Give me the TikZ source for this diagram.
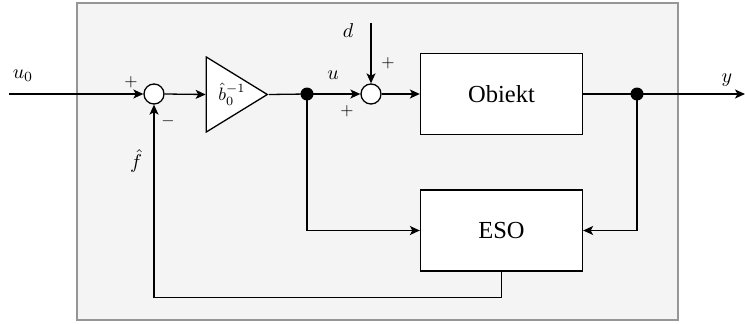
\documentclass[tikz,border=0pt]{standalone}
\usepackage{fontspec}
\setmainfont{Liberation Serif}
\usetikzlibrary{arrows.meta,shapes.geometric}
\definecolor{panel}{RGB}{244,244,244}
\definecolor{panelborder}{RGB}{150,150,150}
\begin{document}
\begin{tikzpicture}[x=1pt,y=-1pt,
  line width=1.3pt,
  arr/.style={-{Stealth[length=10pt,width=9pt,inset=2.5pt]}},
  sumnode/.style={circle,draw,fill=white,minimum size=20pt,inner sep=0pt},
  blk/.style={draw,fill=white,minimum width=162pt,minimum height=81pt,inner sep=0pt,font=\fontsize{24.5}{28}\selectfont},
  jdot/.style={circle,fill=black,minimum size=13pt,inner sep=0pt},
  lbl/.style={scale=2,inner sep=0pt},
  sgn/.style={scale=1.7,inner sep=0pt}]
\useasboundingbox (0,0) rectangle (745,324);
\draw[draw=panelborder,fill=panel,line width=1.4pt] (77,3) rectangle (678,320);

\node[sumnode] (s1) at (154,94) {};
\node[isosceles triangle,isosceles triangle stretches,shape border rotate=0,draw,fill=white,
      minimum width=75pt,minimum height=61pt,inner sep=0pt,anchor=apex] (tri) at (269,94.5) {};
\node[scale=1.8,inner sep=0pt] (gain) at (232,94) {$\hat{b}_0^{-1}$};
\node[jdot] (j1) at (307,94) {};
\node[sumnode] (s2) at (371,94) {};
\node[blk] (obj) at (501.5,94) {Obiekt};
\node[jdot] (j2) at (637,94) {};
\node[blk] (eso) at (501.5,230.5) {ESO};

\coordinate (u0start) at (9,94);
\coordinate (dstart) at (371,23);
\coordinate (yend) at (745,94);

\draw[arr] (u0start) -- (s1.west);
\draw[arr] (s1.east) -- (tri.lower side);
\draw (tri.apex) -- (j1.center);
\draw[arr] (j1.center) -- (s2.west);
\draw[arr] (dstart) -- (s2.north);
\draw[arr] (s2.east) -- (obj.west);
\draw (obj.east) -- (j2.center);
\draw[arr] (j2.center) -- (yend);
\draw[arr] (j1.center) |- (eso.west);
\draw[arr] (j2.center) |- (eso.east);
\draw[arr] (eso.south) -- ++(0,26) -| (s1.south);

\node[lbl] (lu0) at (23,76) {$u_0$};
\node[lbl] (lu) at (333,75) {$u$};
\node[lbl] (ld) at (348,31) {$d$};
\node[lbl] (ly) at (727,80) {$y$};
\node[lbl] (lf) at (136,161) {$\hat{f}$};
\node[sgn] (p1) at (131,82) {$+$};
\node[sgn] (m1) at (168,121) {$-$};
\node[sgn] (p2) at (388,63) {$+$};
\node[sgn] (p3) at (347,111) {$+$};
\end{tikzpicture}
\end{document}
